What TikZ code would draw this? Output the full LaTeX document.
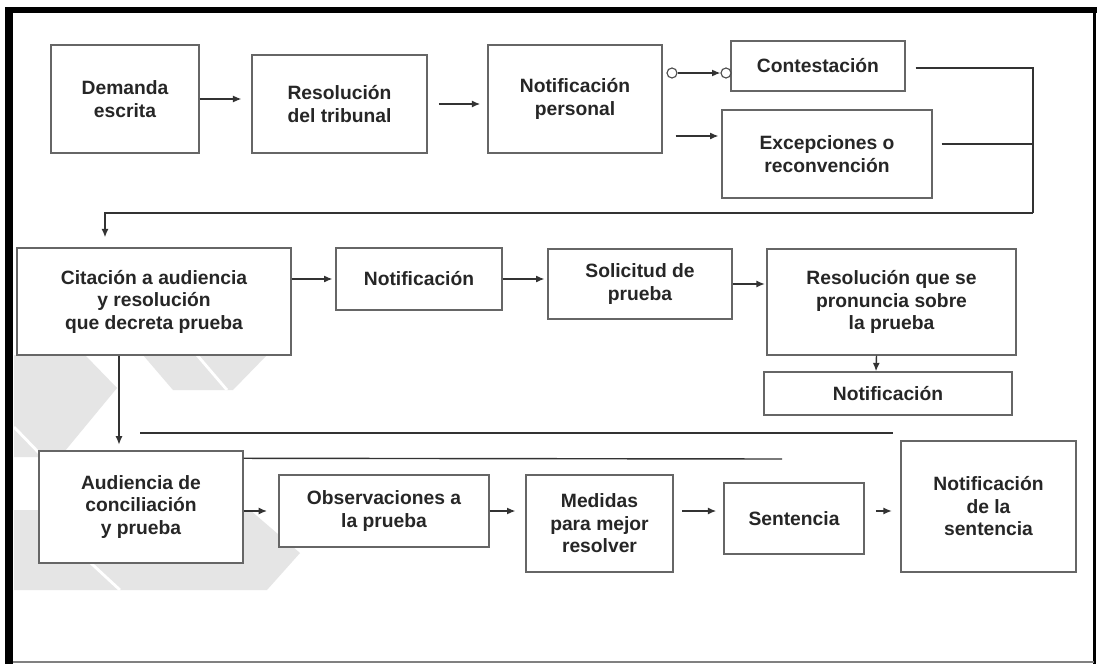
\documentclass[tikz,border=0pt]{standalone}
\usepackage{fontspec}
\setmainfont{Liberation Sans}
\usetikzlibrary{positioning, arrows.meta}

\begin{document}
\begin{tikzpicture}[
        x=0.025cm, y=-0.025cm,
        etapa/.style={
            rectangle,
            draw=black!60,
            line width=1pt,
            fill=white,
            align=center,
            inner sep=2pt,
            text=black!85,
            font=\fontsize{13.7}{16}\selectfont\bfseries
        },
        arrow/.style={
            -{Latex[length=6pt,width=5pt]},
            line width=1pt,
            draw=black!80
        },
        line/.style={
            line width=1pt,
            draw=black!80
        },
        nudo/.style={
            circle,
            draw=black!70,
            fill=white,
            line width=0.8pt,
            inner sep=0pt,
            minimum size=0.25cm
        },
        marca/.style={
            fill=black!10,
            draw=none
        }
    ]

    \useasboundingbox (0,0) rectangle (1101,664);
    \fill[white] (0,0) rectangle (1101,664);

    % Marca de agua
    \fill[marca] (14,355) -- (85,355) -- (117,388) -- (60,457) -- (14,457) -- cycle;
    \draw[white, line width=2pt] (14,427) -- (43,457);
    \fill[marca] (143,355) -- (267,355) -- (233,390) -- (173,390) -- cycle;
    \draw[white, line width=2pt] (197,355) -- (227,390);
    \fill[marca] (14,510) -- (250,510) -- (300,553) -- (267,590) -- (14,590) -- cycle;
    \draw[white, line width=2pt] (80,553) -- (120,590);

    % Marco
    \fill[black] (5,7) rectangle (13,664);
    \fill[black] (5,7) rectangle (1097,13);
    \draw[black, line width=2pt] (1094.5,7) -- (1094.5,664);
    \draw[black!50, line width=1pt] (13,662) -- (1094,662);

    % Fila 1
    \node[etapa, minimum width=3.7cm, minimum height=2.7cm] (demanda) at (125,99) {Demanda\\escrita};
    \node[etapa, minimum width=4.375cm, minimum height=2.45cm] (resol) at (339.5,104) {Resolución\\del tribunal};
    \node[etapa, minimum width=4.35cm, minimum height=2.7cm] (notifp) at (575,99) {Notificación\\personal};
    \node[etapa, minimum width=4.35cm, minimum height=1.25cm] (contest) at (818,66) {Contestación};
    \node[etapa, minimum width=5.25cm, minimum height=2.2cm] (excep) at (827,154) {Excepciones o\\reconvención};

    \node[nudo] (ca) at (672,73) {};
    \node[nudo] (cb) at (726,73) {};

    % Fila 2
    \node[etapa, minimum width=6.85cm, minimum height=2.675cm] (citacion) at (154,301.5) {Citación a audiencia\\y resolución\\que decreta prueba};
    \node[etapa, minimum width=4.15cm, minimum height=1.55cm] (notif1) at (419,279) {Notificación};
    \node[etapa, minimum width=4.6cm, minimum height=1.75cm] (solicitud) at (640,284) {Solicitud de\\prueba};
    \node[etapa, minimum width=6.225cm, minimum height=2.65cm] (resprueba) at (891.5,302) {Resolución que se\\pronuncia sobre\\la prueba};
    \node[etapa, minimum width=6.2cm, minimum height=1.075cm] (notif2) at (888,393.5) {Notificación};

    % Fila 3
    \node[etapa, minimum width=5.1cm, minimum height=2.8cm] (audiencia) at (141,507) {Audiencia de\\conciliación\\y prueba};
    \node[etapa, minimum width=5.25cm, minimum height=1.8cm] (observ) at (384,511) {Observaciones a\\la prueba};
    \node[etapa, minimum width=3.675cm, minimum height=2.425cm] (medidas) at (599.5,523.5) {Medidas\\para mejor\\resolver};
    \node[etapa, minimum width=3.5cm, minimum height=1.775cm] (sentencia) at (794,518.5) {Sentencia};
    \node[etapa, minimum width=4.375cm, minimum height=3.275cm] (notifsent) at (988.5,506.5) {Notificación\\de la\\sentencia};

    % Flechas fila 1
    \draw[arrow, shorten >=7pt] (demanda.east) -- (demanda.east -| resol.west);
    \draw[arrow, shorten <=8pt, shorten >=5pt] (resol.east) -- (resol.east -| notifp.west);
    \draw[arrow] (ca) -- (cb);
    \draw[arrow, shorten >=2pt] ([shift={(13,37)}]notifp.east) -- ([shift={(0,-18)}]excep.west);

    % Retorno a la citacion
    \coordinate (union) at (1033,213);
    \draw[line] ([shift={(10,2)}]contest.east) -| (union);
    \draw[line] ([shift={(9,-10)}]excep.east) -- ([shift={(0,-10)}]excep.east -| union);
    \draw[arrow] (union) -| ([shift={(-49,-10)}]citacion.north);

    % Flechas fila 2
    \draw[arrow, shorten >=2pt] (citacion.east |- notif1.west) -- (notif1.west);
    \draw[arrow, shorten >=2pt] (notif1.east) -- (notif1.east -| solicitud.west);
    \draw[arrow, shorten >=1pt] (solicitud.east) -- (solicitud.east -| resprueba.west);
    \draw[arrow] ([shift={(-15,0)}]resprueba.south) -- ([shift={(-12,0)}]notif2.north);
    \draw[arrow, shorten >=4pt] ([shift={(-35,0)}]citacion.south) -- ([shift={(-22,0)}]audiencia.north);

    % Lineas sueltas
    \coordinate (la) at (140,433);
    \coordinate (lb) at (893,433);
    \coordinate (lc) at (782,459);
    \draw[line] (la) -- (lb);
    \draw[line] ([shift={(0,8)}]audiencia.north east) -- (lc);

    % Flechas fila 3
    \draw[arrow, shorten >=8pt] (audiencia.east |- observ.west) -- (observ.west);
    \draw[arrow, shorten >=7pt] (observ.east) -- (observ.east -| medidas.west);
    \draw[arrow, shorten <=6pt, shorten >=5pt] (medidas.east |- observ.east) -- (sentencia.west |- observ.east);
    \draw[arrow, shorten <=8pt, shorten >=6pt] (sentencia.east |- observ.east) -- (notifsent.west |- observ.east);

\end{tikzpicture}
\end{document}
